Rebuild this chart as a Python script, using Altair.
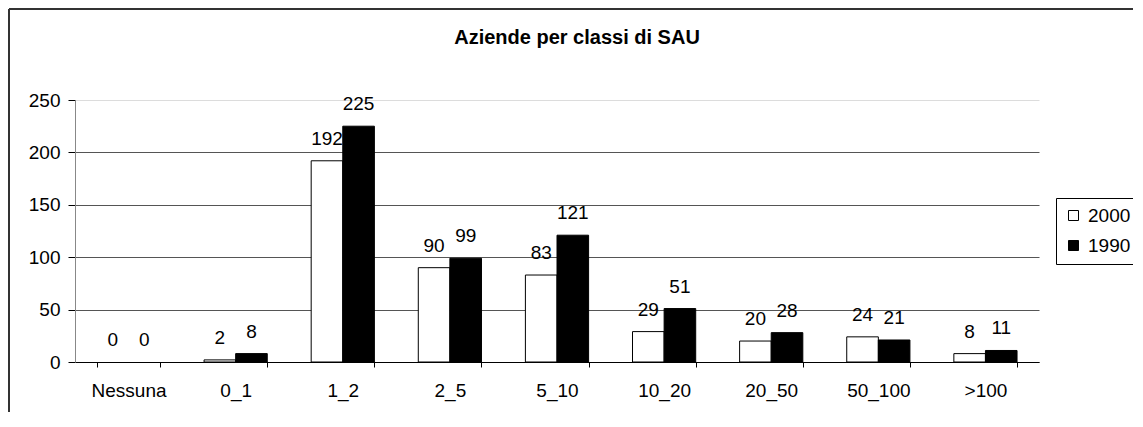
import altair as alt
import pandas as pd

categories = ["Nessuna", "0_1", "1_2", "2_5", "5_10", "10_20", "20_50", "50_100", ">100"]
series = ["2000", "1990"]
values_2000 = [0, 2, 192, 90, 83, 29, 20, 24, 8]
values_1990 = [0, 8, 225, 99, 121, 51, 28, 21, 11]
y_ticks = [0, 50, 100, 150, 200, 250]
title_text = "Aziende per classi di SAU"

rows = []
for c, a, b in zip(categories, values_2000, values_1990):
    rows.append({"cat": c, "series": "2000", "value": a})
    rows.append({"cat": c, "series": "1990", "value": b})
df = pd.DataFrame(rows)

FONT = "Liberation Sans"
FS = 19

x_enc = alt.X(
    "cat:N",
    sort=categories,
    scale=alt.Scale(paddingInner=0.41, paddingOuter=0.205),
    axis=alt.Axis(
        title=None,
        labelAngle=0,
        tickBand="extent",
        tickSize=5,
        tickColor="black",
        domainColor="black",
        labelPadding=14,
        labelFontSize=FS,
        labelColor="black",
        grid=False,
    ),
)
xoff_enc = alt.XOffset(
    "series:N", sort=series, scale=alt.Scale(domain=series, paddingInner=0, paddingOuter=0)
)
y_enc = alt.Y(
    "value:Q",
    scale=alt.Scale(domain=[0, 250], nice=False),
    axis=alt.Axis(
        title=None,
        values=y_ticks,
        grid=True,
        gridColor={"condition": {"test": "datum.value === 250", "value": "#dcdcdc"}, "value": "#555555"},
        gridWidth=1,
        domainColor="#888888",
        tickColor="black",
        tickSize=7,
        labelPadding=8,
        labelFontSize=FS,
        labelColor="black",
    ),
)

base = alt.Chart(df).encode(x=x_enc, xOffset=xoff_enc, y=y_enc)

bars = base.mark_bar(stroke="black", strokeWidth=1).encode(
    color=alt.Color(
        "series:N",
        sort=series,
        scale=alt.Scale(domain=series, range=["white", "black"]),
        legend=alt.Legend(
            title=None,
            orient="none",
            legendX=981,
            legendY=98,
            padding=8,
            rowPadding=10,
            strokeColor="black",
            fillColor="white",
            symbolType="square",
            symbolSize=100,
            symbolStrokeColor="black",
            symbolStrokeWidth=1,
            labelFontSize=FS,
            labelColor="black",
            labelOffset=5,
        ),
    )
).transform_filter("datum.value > 0")

labels = base.mark_text(
    dy=-16, baseline="alphabetic", fontSize=FS, font=FONT, color="black"
).encode(text="value:Q")

one = pd.DataFrame({"t": [title_text]})
title = alt.Chart(one).mark_text(
    fontSize=20, fontWeight="bold", font=FONT, color="black", baseline="alphabetic", align="center"
).encode(text="t:N", x=alt.value(502), y=alt.value(-56))

border_left = alt.Chart(one).mark_rule(color="#333333", strokeWidth=2).encode(
    x=alt.value(-66), y=alt.value(-91), y2=alt.value(400)
)
border_top = alt.Chart(one).mark_rule(color="#333333", strokeWidth=2).encode(
    x=alt.value(-66), x2=alt.value(1200), y=alt.value(-91)
)

chart = alt.layer(bars, labels, title, border_left, border_top).properties(
    width=964,
    height=262,
    autosize=alt.AutoSizeParams(type="none"),
    padding={"left": 67, "top": 92, "right": 94, "bottom": 50},
).configure(font=FONT).configure_view(stroke=None)

chart.save("out.html", embed_options={"renderer": "svg", "actions": False})
